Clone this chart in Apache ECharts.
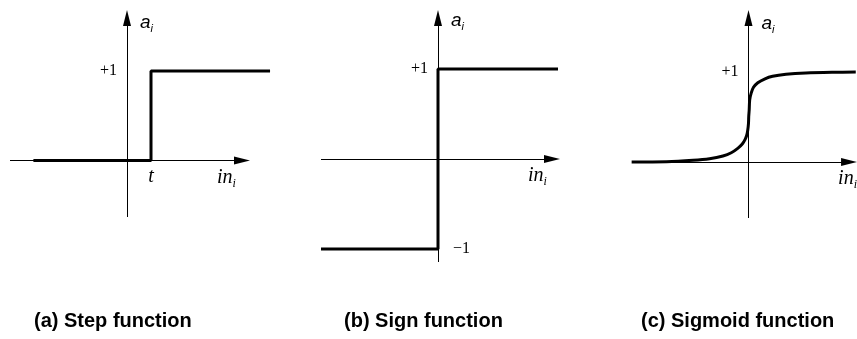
<!DOCTYPE html>
<html>
<head>
<meta charset="utf-8">
<script src="https://cdn.jsdelivr.net/npm/echarts@6/dist/echarts.min.js"></script>
<style>
html, body { margin: 0; padding: 0; background: #fff; }
#chart { width: 857px; height: 339px; }
</style>
</head>
<body>
<div id="chart"></div>
<script>
// Step function: 0 below the threshold t, +1 above it
const stepThreshold = 1;
const stepX = [-3.9, 1, 1, 5.96];
const stepY = [0, 0, 1, 1];

// Sign function: -1 for negative input, +1 for positive input
const signX = [-4.875, 0, 0, 5];
const signY = [-1, -1, 1, 1];

// Sigmoid function, steep around zero and saturating at +1
const sigmoidX = [-4.89, -3.43, -2.32, -1.63, -1.07, -0.72, -0.45, -0.26, -0.14, -0.07, -0.03, 0.0, 0.01, 0.03, 0.05, 0.11, 0.21, 0.39, 0.67, 1.01, 1.57, 2.4, 3.51, 4.49];
const sigmoidY = [0, 0.003, 0.019, 0.037, 0.067, 0.103, 0.152, 0.2, 0.252, 0.3, 0.356, 0.43, 0.503, 0.578, 0.689, 0.763, 0.83, 0.881, 0.922, 0.952, 0.974, 0.989, 0.997, 1.0];

const captions = ['(a) Step function', '(b) Sign function', '(c) Sigmoid function'];
const plusOne = '+1';
const minusOne = '\u22121';

// Panel frames in pixels: drawing box, origin, scale, and where each axis arrow starts / points to
const panels = [
  { left: 10,  right: 272, top: 10, bottom: 217, ox: 127, oy: 160.5, ux: 24, uy: 89.5,
    xStart: 10,  xTip: 250, yStart: 217, yTip: 10, captionLeft: 34 },
  { left: 321, right: 560, top: 10, bottom: 262, ox: 438, oy: 159,   ux: 24, uy: 90,
    xStart: 321, xTip: 560, yStart: 262, yTip: 10, captionLeft: 344 },
  { left: 632, right: 858, top: 10, bottom: 218, ox: 749, oy: 162,   ux: 24, uy: 90,
    xStart: 632, xTip: 858, yStart: 218, yTip: 10, captionLeft: 641 }
];
const arrowSize = [8, 16];

const zip = (xs, ys) => xs.map((x, i) => [x, ys[i]]);
const curves = [zip(stepX, stepY), zip(signX, signY), zip(sigmoidX, sigmoidY)];

const hiddenAxis = {
  axisLine: { show: false }, axisTick: { show: false },
  axisLabel: { show: false }, splitLine: { show: false }
};

const grids = [], xAxes = [], yAxes = [], series = [], titles = [];
panels.forEach((p, i) => {
  const toX = (v) => (v - p.ox) / p.ux;
  const toY = (v) => (p.oy - v) / p.uy;
  grids.push({ left: p.left, top: p.top, width: p.right - p.left, height: p.bottom - p.top });
  xAxes.push(Object.assign({ type: 'value', gridIndex: i, min: toX(p.left), max: toX(p.right) }, hiddenAxis));
  yAxes.push(Object.assign({ type: 'value', gridIndex: i, min: toY(p.bottom), max: toY(p.top) }, hiddenAxis));
  series.push({
    type: 'line', xAxisIndex: i, yAxisIndex: i,
    data: curves[i],
    symbol: 'none', clip: false,
    smooth: i === 2 ? 0.3 : false,
    lineStyle: { color: '#000', width: 3 },
    z: 5,
    // coordinate axes with arrowheads, crossing at the origin
    markLine: {
      silent: true,
      symbol: ['none', 'triangle'],
      symbolSize: arrowSize,
      lineStyle: { color: '#000', width: 1, type: 'solid' },
      itemStyle: { color: '#000' },
      label: { show: false },
      emphasis: { disabled: true },
      data: [
        [{ coord: [toX(p.xStart), 0] }, { coord: [toX(p.xTip - arrowSize[1] / 2), 0] }],
        [{ coord: [0, toY(p.yStart)] }, { coord: [0, toY(p.yTip + arrowSize[1] / 2)] }]
      ]
    }
  });
  titles.push({
    text: captions[i], left: p.captionLeft, top: 311, padding: 0,
    textStyle: { fontFamily: 'Liberation Sans, Arial, sans-serif', fontWeight: 'bold', fontSize: 20, color: '#000' }
  });
});

const chart = echarts.init(document.getElementById('chart'), null, { renderer: 'canvas' });
chart.setOption({
  animation: false,
  backgroundColor: '#fff',
  title: titles,
  grid: grids,
  xAxis: xAxes,
  yAxis: yAxes,
  series: series
});

// Axis annotations placed through each panel's coordinate system
const serif = 'Liberation Serif, Times New Roman, serif';
const sans = 'Liberation Sans, Arial, sans-serif';
const px = (i, pt) => chart.convertToPixel({ gridIndex: i }, pt);

function plain(i, pt, dx, dy, text, font, size, italic, align) {
  const [x, y] = px(i, pt);
  return {
    type: 'text', x: x + dx, y: y + dy, z: 10,
    style: { text: text, fontFamily: font, fontSize: size, fontStyle: italic ? 'italic' : 'normal',
      fill: '#000', align: align, verticalAlign: 'middle' }
  };
}
function aLabel(i) {
  const [x, y] = px(i, [0, 1]);
  return {
    type: 'text', x: x + 13, y: y - 59, z: 10,
    style: {
      text: '{m|a}{s|i}', align: 'left', verticalAlign: 'top',
      rich: {
        m: { fontFamily: sans, fontStyle: 'italic', fontSize: 19, lineHeight: 22, fill: '#000' },
        s: { fontFamily: sans, fontStyle: 'italic', fontSize: 11, lineHeight: 6, verticalAlign: 'bottom', fill: '#000' }
      }
    }
  };
}
function inLabel(i) {
  const [x, y] = px(i, [3.75, 0]);
  return {
    type: 'text', x: x, y: y + 5, z: 10,
    style: {
      text: '{m|in}{s|i}', align: 'left', verticalAlign: 'top',
      rich: {
        m: { fontFamily: serif, fontStyle: 'italic', fontSize: 20, lineHeight: 24, fill: '#000' },
        s: { fontFamily: serif, fontStyle: 'italic', fontSize: 12, lineHeight: 10, verticalAlign: 'bottom', fill: '#000' }
      }
    }
  };
}

const graphics = [];
panels.forEach((p, i) => {
  graphics.push(aLabel(i), inLabel(i));
  graphics.push(plain(i, [0, 1], -10, 0, plusOne, serif, 16, false, 'right'));
});
graphics.push(plain(0, [stepThreshold, 0], 0, 16.5, 't', serif, 20, true, 'center'));
graphics.push(plain(1, [0, -1], 15, 0, minusOne, serif, 16, false, 'left'));

chart.setOption({ graphic: graphics });
</script>
</body>
</html>
